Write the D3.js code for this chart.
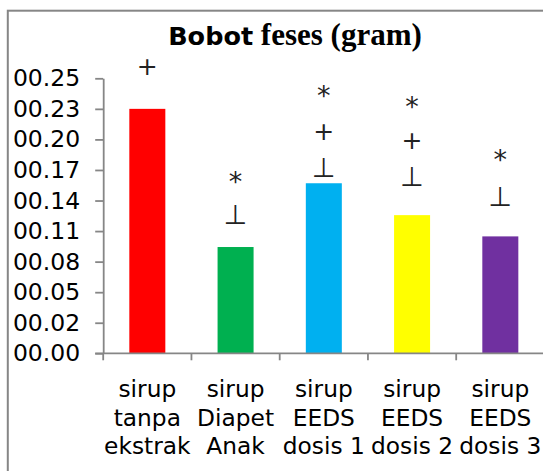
<!DOCTYPE html>
<html>
<head>
<meta charset="utf-8">
<script src="https://cdnjs.cloudflare.com/ajax/libs/d3/7.8.5/d3.min.js"></script>
<style>
  html, body { margin: 0; padding: 0; background: #fff; }
  svg { display: block; }
  .tick text { font-family: "DejaVu Sans", Verdana, sans-serif; }
</style>
</head>
<body>
<div id="chart"></div>
<script>
'use strict';

// chart data
var categories = [
  ['sirup', 'tanpa', 'ekstrak'],
  ['sirup', 'Diapet', 'Anak'],
  ['sirup', 'EEDS', 'dosis 1'],
  ['sirup', 'EEDS', 'dosis 2'],
  ['sirup', 'EEDS', 'dosis 3']
];
var values = [0.23, 0.10, 0.16, 0.13, 0.11];
var colors = ['#ff0000', '#00b050', '#00b0f0', '#ffff00', '#7030a0'];

var tickStep = 0.02875;
var tickLabels = ['00.00', '00.02', '00.05', '00.08', '00.11',
                  '00.14', '00.17', '00.20', '00.23', '00.25'];

// significance marks above the bars (category index, symbol, level)
var marks = [
  [0, '+', 0.270],
  [1, '*', 0.167], [1, '\u22A5', 0.131],
  [2, '*', 0.248], [2, '+', 0.209], [2, '\u22A5', 0.175],
  [3, '*', 0.238], [3, '+', 0.200], [3, '\u22A5', 0.166],
  [4, '*', 0.188], [4, '\u22A5', 0.148]
];

var title = ['Bobot', ' feses (gram)'];

var width = 543, height = 471;
var axisColor = '#868686';

var svg = d3.select('#chart').append('svg')
  .attr('width', width)
  .attr('height', height);

// outer frame, runs off the right and bottom edges
svg.append('rect')
  .attr('x', 7.8)
  .attr('y', 10.7)
  .attr('width', width + 20)
  .attr('height', height + 20)
  .attr('fill', 'none')
  .attr('stroke', axisColor)
  .attr('stroke-width', 2);

var plot = { left: 103.2, top: 78.3, bottom: 353.3 };
var bandStep = 88.25;

var x = d3.scaleBand()
  .domain(d3.range(categories.length))
  .range([plot.left, plot.left + bandStep * categories.length])
  .paddingInner(0.592)
  .paddingOuter(0.296);

var y = d3.scaleLinear()
  .domain([0, tickStep * (tickLabels.length - 1)])
  .range([plot.bottom, plot.top]);

// title
var t = svg.append('text')
  .attr('x', 295)
  .attr('y', 45)
  .attr('text-anchor', 'middle')
  .attr('font-weight', 'bold')
  .attr('fill', '#000');
t.append('tspan')
  .attr('font-family', '"DejaVu Sans", Verdana, sans-serif')
  .attr('font-size', 25.5)
  .text(title[0]);
t.append('tspan')
  .attr('font-family', '"Liberation Serif", "Times New Roman", serif')
  .attr('font-size', 31)
  .text(title[1]);

// bars
svg.append('g').selectAll('rect')
  .data(values)
  .enter().append('rect')
  .attr('x', function(d, i) { return x(i); })
  .attr('width', x.bandwidth())
  .attr('y', function(d) { return y(d); })
  .attr('height', function(d) { return y(0) - y(d); })
  .attr('fill', function(d, i) { return colors[i]; });

// y axis
var yAxis = d3.axisLeft(y)
  .tickValues(d3.range(tickLabels.length).map(function(i) { return i * tickStep; }))
  .tickFormat(function(d, i) { return tickLabels[i]; })
  .tickSize(8)
  .tickSizeOuter(0)
  .tickPadding(15);

var gy = svg.append('g')
  .attr('transform', 'translate(' + plot.left + ',0)')
  .call(yAxis);
gy.selectAll('line, path').attr('stroke', axisColor).attr('stroke-width', 1.8);
gy.selectAll('text')
  .attr('font-size', 23.5)
  .attr('fill', '#000');

// x axis: line and ticks at the category boundaries
var xEnd = x.range()[1];
var gx = svg.append('g');
gx.append('line')
  .attr('x1', plot.left - 8).attr('x2', xEnd)
  .attr('y1', y(0)).attr('y2', y(0))
  .attr('stroke', axisColor).attr('stroke-width', 1.8);
gx.selectAll('line.tick')
  .data(d3.range(categories.length + 1))
  .enter().append('line')
  .attr('class', 'tick')
  .attr('x1', function(i) { return plot.left + i * x.step(); })
  .attr('x2', function(i) { return plot.left + i * x.step(); })
  .attr('y1', y(0))
  .attr('y2', y(0) + 7)
  .attr('stroke', axisColor).attr('stroke-width', 1.8);

// category labels
var labels = svg.append('g').selectAll('text')
  .data(categories)
  .enter().append('text')
  .attr('text-anchor', 'middle')
  .attr('font-family', '"DejaVu Sans", Verdana, sans-serif')
  .attr('font-size', 23.3)
  .attr('fill', '#000');

labels.selectAll('tspan')
  .data(function(d, i) {
    return d.map(function(s) { return { s: s, i: i }; });
  })
  .enter().append('tspan')
  .attr('x', function(d) { return x(d.i) + x.bandwidth() / 2; })
  .attr('y', function(d, j) { return 397 + j * 28.7; })
  .text(function(d) { return d.s; });

// significance marks
var glyphShift = { '+': 0, '*': 6, '\u22A5': 0 };
var glyphSize = { '+': 25, '*': 27, '\u22A5': 27 };

svg.append('g').selectAll('text')
  .data(marks)
  .enter().append('text')
  .attr('x', function(d) { return x(d[0]) + x.bandwidth() / 2; })
  .attr('y', function(d) { return y(d[2]) + glyphShift[d[1]]; })
  .attr('dominant-baseline', 'central')
  .attr('text-anchor', 'middle')
  .attr('font-family', '"DejaVu Sans", sans-serif')
  .attr('font-size', function(d) { return glyphSize[d[1]]; })
  .attr('fill', '#222')
  .text(function(d) { return d[1]; });
</script>
</body>
</html>
